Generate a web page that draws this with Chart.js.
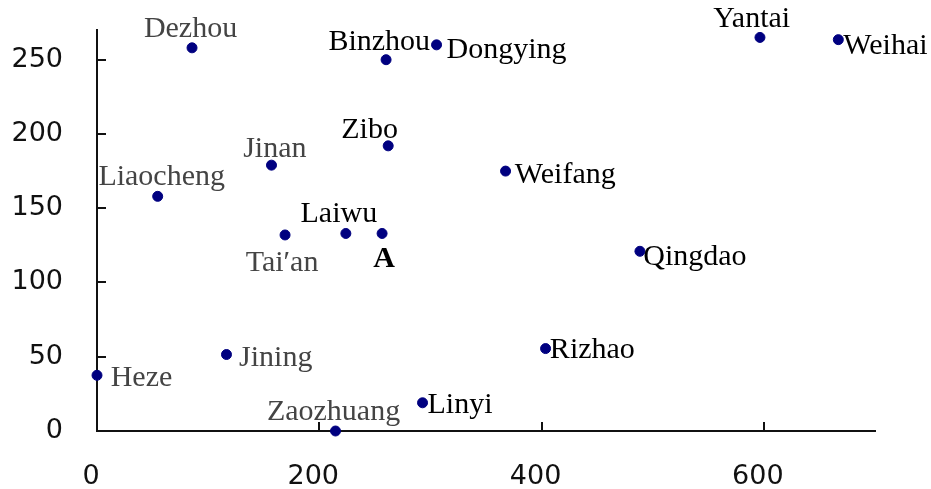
<!DOCTYPE html>
<html>
<head>
<meta charset="utf-8">
<script src="https://cdn.jsdelivr.net/npm/chart.js@4/dist/chart.umd.min.js"></script>
<style>
  html, body { margin: 0; padding: 0; background: #fff; }
  #wrap { width: 931px; height: 489px; }
</style>
</head>
<body>
<div id="wrap"><canvas id="chartCities"></canvas></div>
<script>
const cities = ['Dezhou', 'Liaocheng', 'Jinan', 'Tai\u2032an', 'Laiwu', 'A', 'Zibo', 'Binzhou', 'Dongying',
  'Weifang', 'Yantai', 'Weihai', 'Qingdao', 'Rizhao', 'Linyi', 'Zaozhuang', 'Heze', 'Jining'];
const xValues = [85.5, 54.6, 157, 169.2, 223.9, 256.5, 262, 260.1, 305.5,
  367.6, 596.5, 667, 488.5, 403.6, 292.9, 214.6, 0, 116.5];
const yValues = [258, 158, 179, 132, 133, 133, 192, 250, 260,
  175, 265, 263.5, 121, 55.5, 19, 0, 37.5, 51.5];
const xTicks = [0, 200, 400, 600];
const yTicks = [0, 50, 100, 150, 200, 250];

// label placement: [textAlign, dx, dy(baseline), colour, bold]
const gray = '#444';
const labelStyle = [
  ['center', -1.5, -10.6, gray], ['center', 4, -11, gray], ['center', 3.3, -8, gray],
  ['center', -3, 36.4, gray], ['center', -7, -11.6, '#000'], ['center', 2, 33.4, '#000', true],
  ['center', -18.6, -8, '#000'], ['center', -6.8, -9.7, '#000'], ['left', 10, 13.6, '#000'],
  ['left', 9.3, 12, '#000'], ['center', -8.3, -10, '#000'], ['left', 5, 14, '#000'],
  ['left', 3.3, 13.3, '#000'], ['left', 4.3, 9.6, '#000'], ['left', 5, 10, '#000'],
  ['center', -2, -11.3, gray], ['left', 13.7, 11, gray], ['left', 12.6, 11.3, gray],
];

const points = xValues.map((x, i) => ({ x: x, y: yValues[i] }));

const pointLabels = {
  id: 'pointLabels',
  afterDatasetsDraw(chart) {
    const ctx = chart.ctx;
    const meta = chart.getDatasetMeta(0);
    ctx.save();
    ctx.textBaseline = 'alphabetic';
    meta.data.forEach((pt, i) => {
      const [align, dx, dy, color, bold] = labelStyle[i];
      ctx.font = (bold ? 'bold ' : '') + '30px "Liberation Serif", serif';
      ctx.fillStyle = color;
      ctx.textAlign = align;
      ctx.fillText(cities[i], pt.x + dx, pt.y + dy);
    });
    ctx.restore();
  },
};

// tick marks drawn inward from the axes
const innerTicks = {
  id: 'innerTicks',
  afterDraw(chart) {
    const ctx = chart.ctx;
    const { x, y } = chart.scales;
    const area = chart.chartArea;
    ctx.save();
    ctx.strokeStyle = '#111';
    ctx.lineWidth = 2;
    ctx.beginPath();
    x.ticks.forEach(t => {
      const px = Math.round(x.getPixelForValue(t.value));
      ctx.moveTo(px, area.bottom);
      ctx.lineTo(px, area.bottom - 9);
    });
    y.ticks.forEach(t => {
      const py = Math.round(y.getPixelForValue(t.value));
      ctx.moveTo(area.left, py);
      ctx.lineTo(area.left + 9, py);
    });
    ctx.stroke();
    ctx.restore();
  },
};

new Chart(document.getElementById('chartCities'), {
  type: 'scatter',
  data: {
    datasets: [{
      data: points,
      backgroundColor: '#000080',
      borderColor: '#000080',
      pointRadius: 5,
      pointHoverRadius: 5,
      clip: false,
    }],
  },
  options: {
    responsive: true,
    maintainAspectRatio: false,
    animation: false,
    events: [],
    layout: { padding: { top: 30, right: 56, left: 0, bottom: 0 } },
    plugins: { legend: { display: false }, tooltip: { enabled: false } },
    scales: {
      x: {
        type: 'linear',
        min: 0,
        max: 700,
        afterBuildTicks: s => { s.ticks = xTicks.map(v => ({ value: v })); },
        afterFit: s => { s.height = 58; s.paddingLeft = 0; s.paddingRight = 0; },
        grid: { display: false },
        border: { display: true, color: '#111', width: 2 },
        ticks: { color: '#111', padding: 22, labelOffset: -6, font: { family: 'DejaVu Sans', size: 27 } },
      },
      y: {
        type: 'linear',
        min: 0,
        max: 270,
        afterBuildTicks: s => { s.ticks = yTicks.map(v => ({ value: v })); },
        afterFit: s => { s.width = 97; s.paddingTop = 0; s.paddingBottom = 0; },
        grid: { display: false },
        border: { display: true, color: '#111', width: 2 },
        ticks: { color: '#111', padding: 26, font: { family: 'DejaVu Sans', size: 27 } },
      },
    },
  },
  plugins: [pointLabels, innerTicks],
});
</script>
</body>
</html>
